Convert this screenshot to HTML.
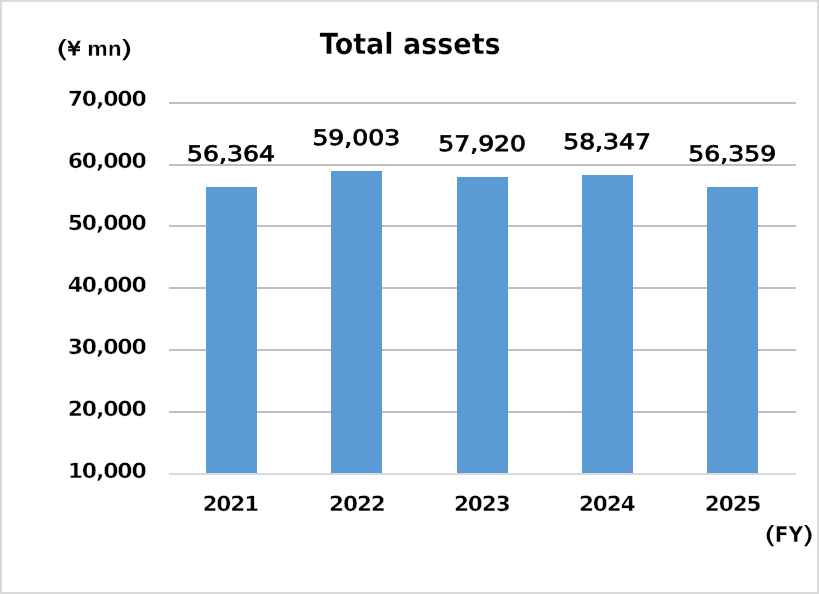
<!DOCTYPE html>
<html lang="en">
<head>
<meta charset="utf-8">
<title>Total assets</title>
<style>
html,body{margin:0;padding:0;background:#fff;}
body{width:819px;height:594px;overflow:hidden;}
svg{display:block;}
text{font-family:"DejaVu Sans","Liberation Sans",sans-serif;fill:#000;text-rendering:geometricPrecision;font-kerning:none;white-space:pre;}
.ax{font-size:21.0px;font-weight:bold;stroke:#fff;stroke-width:0.4px;letter-spacing:-1.092px;}
.lt{font-size:21.3px;font-weight:bold;stroke:#fff;stroke-width:0.7px;letter-spacing:-0.639px;}
.fy{font-size:21.9px;font-weight:bold;stroke:#fff;stroke-width:0.4px;letter-spacing:-0.219px;}
.pn{font-size:23.7px;font-weight:normal;}
.yen{font-size:19.0px;font-weight:normal;stroke:#000;stroke-width:0.9px;stroke-linejoin:miter;}
.dl{font-size:21.4px;font-weight:normal;stroke:#000;stroke-width:0.8px;stroke-linejoin:miter;}
.title{font-size:29.2px;font-weight:bold;stroke:#fff;stroke-width:0.3px;}
.title{font-kerning:normal;}
</style>
</head>
<body>
<svg width="819" height="594" viewBox="0 0 819 594">
<rect x="0" y="0" width="819" height="594" fill="#ffffff"/>
<rect x="1" y="1" width="817" height="592" fill="none" stroke="#d9d9d9" stroke-width="2"/>
<rect x="169" y="102" width="627" height="2" fill="#bfbfbf"/>
<rect x="169" y="164" width="627" height="2" fill="#bfbfbf"/>
<rect x="169" y="225" width="627" height="2" fill="#bfbfbf"/>
<rect x="169" y="287" width="627" height="2" fill="#bfbfbf"/>
<rect x="169" y="349" width="627" height="2" fill="#bfbfbf"/>
<rect x="169" y="411" width="627" height="2" fill="#bfbfbf"/>
<rect x="206" y="187" width="51" height="286" fill="#5b9bd5"/>
<rect x="331" y="171" width="51" height="302" fill="#5b9bd5"/>
<rect x="457" y="177" width="51" height="296" fill="#5b9bd5"/>
<rect x="582" y="175" width="51" height="298" fill="#5b9bd5"/>
<rect x="707" y="187" width="51" height="286" fill="#5b9bd5"/>
<rect x="169" y="473" width="627" height="2" fill="#d9d9d9"/>
<text class="ax" transform="translate(67.71 106.00) scale(1.046 1)">70,000</text>
<text class="ax" transform="translate(67.71 168.00) scale(1.046 1)">60,000</text>
<text class="ax" transform="translate(67.71 230.00) scale(1.046 1)">50,000</text>
<text class="ax" transform="translate(67.71 292.00) scale(1.046 1)">40,000</text>
<text class="ax" transform="translate(67.71 354.00) scale(1.046 1)">30,000</text>
<text class="ax" transform="translate(67.71 416.00) scale(1.046 1)">20,000</text>
<text class="ax" transform="translate(67.71 478.00) scale(1.046 1)">10,000</text>
<text class="ax" transform="translate(202.38 511.00) scale(1.03 1)">2021</text>
<text class="ax" transform="translate(329.07 511.00) scale(1.03 1)">2022</text>
<text class="ax" transform="translate(453.89 511.00) scale(1.03 1)">2023</text>
<text class="ax" transform="translate(578.93 511.00) scale(1.03 1)">2024</text>
<text class="ax" transform="translate(704.79 511.00) scale(1.03 1)">2025</text>
<text class="dl" transform="translate(187.08 161.00) scale(1.174 1)">56,364</text>
<text class="dl" transform="translate(312.38 145.00) scale(1.174 1)">59,003</text>
<text class="dl" transform="translate(438.21 151.00) scale(1.174 1)">57,920</text>
<text class="dl" transform="translate(563.15 149.00) scale(1.174 1)">58,347</text>
<text class="dl" transform="translate(688.26 161.00) scale(1.174 1)">56,359</text>
<text class="title" transform="translate(319.83 54.00) scale(0.925 1)">Total assets</text>
<g><text class="pn" transform="translate(55.57 57.00) scale(1.49 1)">(</text><text class="yen" transform="translate(67.35 55.00) scale(1.13 1)">¥</text><text class="lt" transform="translate(80.65 56.00) scale(0.95 1)"> mn</text><text class="pn" transform="translate(119.46 57.00) scale(1.49 1)">)</text></g>
<g><text class="pn" transform="translate(763.75 543.00) scale(1.4 1)">(</text><text class="fy" transform="translate(774.86 542.00) scale(0.925 1)">FY</text><text class="pn" transform="translate(801.51 543.00) scale(1.4 1)">)</text></g>
</svg>
</body>
</html>
